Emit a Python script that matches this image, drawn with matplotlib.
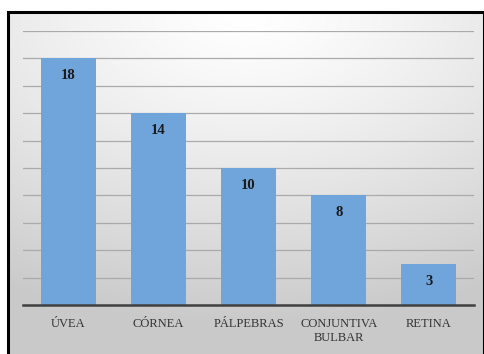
import numpy as np
import matplotlib.pyplot as plt
from matplotlib.patches import Rectangle

categories = ["ÚVEA", "CÓRNEA", "PÁLPEBRAS", "CONJUNTIVA\nBULBAR", "RETINA"]
values = [18, 14, 10, 8, 3]

W, H = 485, 354
fig = plt.figure(figsize=(W / 100, H / 100), dpi=100)
fig.patch.set_facecolor("white")

# Framed panel with a soft radial grey gradient
fx0, fy0, fx1, fy1 = 8 / W, 0.0, 484 / W, 1 - 12 / H
bg = fig.add_axes([fx0, fy0, fx1 - fx0, fy1 - fy0], zorder=0)
ny, nx = 200, 300
yy, xx = np.mgrid[0:1:ny * 1j, 0:1:nx * 1j]
r = np.sqrt(((xx - 0.5) * 1.0) ** 2 + ((yy - 0.0) * 1.15) ** 2)
r = np.clip(r / 1.05, 0, 1)
shade = 1.0 - 0.21 * r ** 1.3
img = np.dstack([shade, shade, shade])
bg.imshow(img, extent=[0, 1, 1, 0], aspect="auto", interpolation="bilinear")
bg.set_xlim(0, 1)
bg.set_ylim(1, 0)
bg.axis("off")

fig.patches.append(Rectangle((fx0, -0.01), fx1 - fx0, fy1 + 0.01,
                             transform=fig.transFigure, fill=False,
                             edgecolor="black", linewidth=2.2, zorder=10))

ax = fig.add_axes([23 / W, 1 - 305 / H, (474 - 23) / W, (305 - 31) / H], zorder=1)
ax.patch.set_alpha(0)

x = np.arange(len(categories))
bars = ax.bar(x, values, width=0.61, color="#6fa5db", zorder=3)

ax.set_xlim(-0.5, len(categories) - 0.5)
ax.set_ylim(0, 20)
ax.set_yticks(np.arange(0, 21, 2))
ax.yaxis.grid(True, color="#aaaaaa", linewidth=0.9, zorder=0)
ax.tick_params(axis="y", left=False, labelleft=False)
ax.tick_params(axis="x", bottom=False, pad=6)
ax.set_xticks(x)
ax.set_xticklabels(categories, fontfamily="Liberation Serif", fontsize=9,
                   color="#333333", linespacing=1.25, va="top")
for s in ["top", "right", "left"]:
    ax.spines[s].set_visible(False)
ax.spines["bottom"].set_color("#404040")
ax.spines["bottom"].set_linewidth(1.8)
ax.spines["bottom"].set_zorder(4)

for xi, v in zip(x, values):
    ax.annotate(str(v), xy=(xi, v), xytext=(0, -12.5), textcoords="offset points",
                ha="center", va="center", fontfamily="Liberation Serif",
                fontweight="bold", fontsize=10.5, color="#1a1a1a", zorder=5)

fig.savefig("out.png", dpi=100)
